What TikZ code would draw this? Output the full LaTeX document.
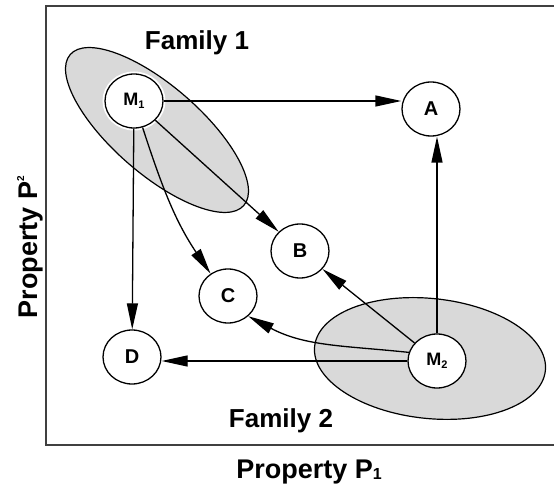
\documentclass[tikz,border=0pt]{standalone}
\usepackage{fontspec}
\setmainfont{Liberation Sans}
\usetikzlibrary{shapes.geometric,arrows.meta}
\begin{document}
\begin{tikzpicture}[x=1pt,y=1pt,
  fam/.style={ellipse, draw, line width=1.2pt, fill=gray!30, inner sep=0pt},
  mnode/.style={ellipse, draw, line width=1.3pt, fill=white, minimum width=58pt, minimum height=54pt, inner sep=0pt, font=\fontsize{18}{18}\selectfont\bfseries},
  lnode/.style={mnode, font=\fontsize{20}{20}\selectfont\bfseries},
  arr/.style={line width=1.3pt, -{Triangle[length=26pt,width=11pt]}},
  lab/.style={font=\fontsize{26}{26}\selectfont\bfseries, anchor=base, inner sep=0pt},
  axlab/.style={font=\fontsize{27}{27}\selectfont\bfseries, anchor=base, inner sep=0pt},
]
\useasboundingbox (0,0) rectangle (554,487);
\fill[white] (0,0) rectangle (554,487);
\draw[line width=2.4pt, black!75] (46,42) rectangle (562,481);
% families
\node[fam, minimum width=230pt, minimum height=88pt, rotate=-41] (f1) at (157,357) {};
\node[fam, minimum width=232pt, minimum height=120pt, rotate=-6] (f2) at (430,128.5) {};
% nodes
\node[mnode, preaction={draw=white, line width=5pt}] (M1) at (134,386) {M\raisebox{-3pt}{\fontsize{11}{11}\selectfont 1}};
\node[lnode] (A) at (431,378) {A};
\node[lnode] (B) at (300,236) {B};
\node[lnode] (C) at (228,191) {C};
\node[mnode] (M2) at (437,126) {M\raisebox{-3pt}{\fontsize{11}{11}\selectfont 2}};
\node[lnode] (D) at (132,130) {D};
% connectors
\draw[arr] (M1.east) -- (M1.east -| A.west);
\draw[arr] (M2.north) -- (M2.north |- A.south);
\draw[arr] (M1) -- (B);
\draw[arr] (M1) -- (D);
\draw[arr] (M1.-72) to[out=-72, in=124] (C.128);
\draw[arr] (M2) -- (B);
\draw[arr] (M2.163) to[out=174, in=-28] (C.-45);
\draw[arr] (M2.west) -- (M2.west -| D.east);
% labels
\node[lab] (fam1) at (197,437) {Family 1};
\node[lab] (fam2) at (281,59) {Family 2};
\node[axlab] (xl) at (309,9) {Property P\raisebox{-2pt}{\fontsize{16}{16}\selectfont 1}};
\node[axlab, rotate=90] (yl) at (37,240) {Property P\raisebox{13pt}{\fontsize{10}{10}\selectfont 2}};
\end{tikzpicture}
\end{document}
